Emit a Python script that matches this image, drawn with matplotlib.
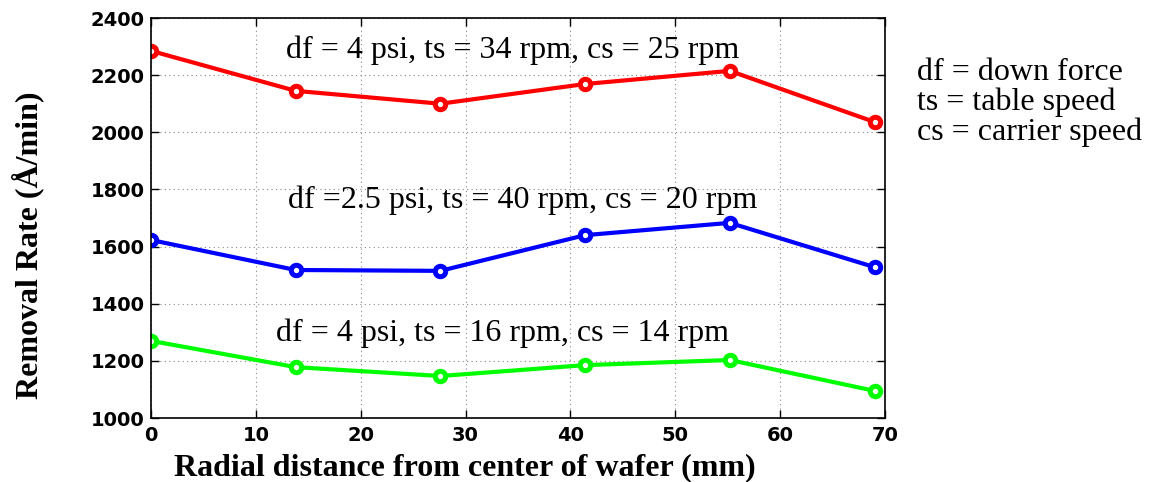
import matplotlib.pyplot as plt

# --- Data ---
radius = [0, 13.8, 27.6, 41.4, 55.2, 69]
rate_high = [2285, 2145, 2100, 2169, 2215, 2036]
rate_mid = [1623, 1518, 1515, 1640, 1683, 1528]
rate_low = [1270, 1178, 1147, 1185, 1203, 1095]

labels = [
    "df = 4 psi, ts = 34 rpm, cs = 25 rpm",
    "df =2.5 psi, ts = 40 rpm, cs = 20 rpm",
    "df = 4 psi, ts = 16 rpm, cs = 14 rpm",
]
label_pos = [(34.5, 2260), (35.4, 1736), (33.5, 1270)]
key_lines = ["df = down force", "ts = table speed", "cs = carrier speed"]

serif = "Liberation Serif"
sans = "DejaVu Sans"

W, H = 1152, 482
fig = plt.figure(figsize=(W / 100, H / 100), dpi=100)
ax = fig.add_axes([151 / W, 1 - 418 / H, 734 / W, 400 / H])

for y, c in zip([rate_high, rate_mid, rate_low], ["#ff0000", "#0000ff", "#00ff00"]):
    ax.plot(radius, y, color=c, lw=3, marker="o", ms=7.5, mfc="white", mec=c, mew=3.6)

for txt, (x, y) in zip(labels, label_pos):
    ax.text(x, y, txt, ha="center", va="baseline", fontsize=23, family=serif)

# key on the right, one line each
for i, line in enumerate(key_lines):
    fig.text(917 / W, 1 - (80 + 30 * i) / H, line, ha="left", va="baseline",
             fontsize=23, family=serif)

ax.set_xlim(0, 70)
ax.set_ylim(1000, 2400)
ax.set_xticks(range(0, 71, 10))
ax.set_yticks(range(1000, 2401, 200))
ax.grid(True, linestyle=(0, (1, 3)), color="#888888", lw=0.8)
ax.tick_params(direction="in", top=True, right=True, length=6, width=1)
ax.tick_params(axis="x", pad=5.5)
ax.tick_params(axis="y", pad=4.5)
for lab in ax.get_xticklabels() + ax.get_yticklabels():
    lab.set_family(sans)
    lab.set_fontweight("bold")
    lab.set_fontsize(14)
for s in ax.spines.values():
    s.set_linewidth(1.2)

fig.text(465 / W, 1 - 475 / H, "Radial distance from center of wafer (mm)",
         ha="center", va="baseline", family=serif, fontweight="bold", fontsize=23)
fig.text(28 / W, 1 - 245 / H, "Removal Rate (Å/min)", rotation=90,
         ha="center", va="center", family=serif, fontweight="bold", fontsize=23)

fig.savefig("out.png", dpi=100)
